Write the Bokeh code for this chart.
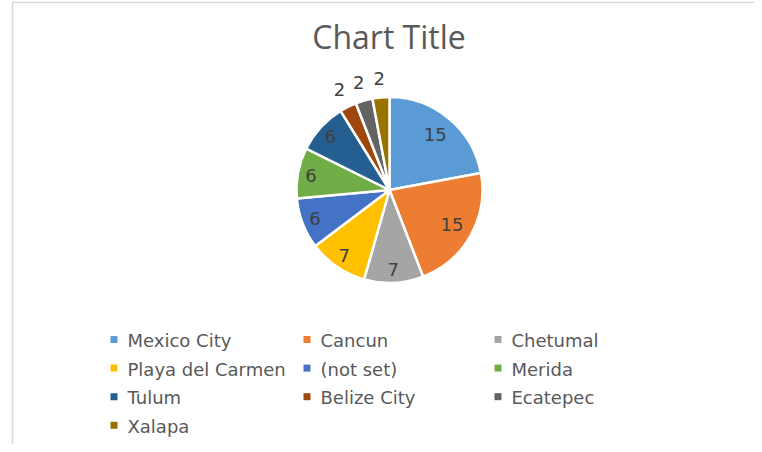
import numpy as np
from bokeh.plotting import figure
from bokeh.models import Range1d, ColumnDataSource
from bokeh.core.properties import value
from bokeh.embed import file_html
from bokeh.resources import INLINE

# ---- data ----
categories = ["Mexico City", "Cancun", "Chetumal", "Playa del Carmen", "(not set)",
              "Merida", "Tulum", "Belize City", "Ecatepec", "Xalapa"]
values = [15, 15, 7, 7, 6, 6, 6, 2, 2, 2]
colors = ["#5B9BD5", "#ED7D31", "#A5A5A5", "#FFC000", "#4472C4",
          "#70AD47", "#255E91", "#9E480E", "#636363", "#997300"]
title_text = "Chart Title"

# ---- layout (screenshot pixel coordinates, y measured downward) ----
W, H = 754, 444
def Y(py):
    return 452 - py

p = figure(width=W, height=H, x_range=Range1d(0, 754), y_range=Range1d(8, 452),
           output_backend="svg", toolbar_location=None, min_border=0,
           x_axis_location=None, y_axis_location=None)
p.grid.visible = False
p.outline_line_color = None
p.background_fill_color = "white"
p.border_fill_color = "white"

# chart area border
p.line(x=[12, 12], y=[Y(2), Y(452)], line_color="#d9d9d9", line_width=1.5)
p.line(x=[12, 754], y=[Y(2), Y(2)], line_color="#d9d9d9", line_width=1.5)

# title
p.text(x=[388.5], y=[Y(36)], text=[title_text], text_font=value("Open Sans"),
       text_font_size="32px", text_color="#595959", text_align="center",
       text_baseline="middle")

# pie
cx, cy, R = 389, Y(189.5), 93
vals = np.array(values, dtype=float)
frac = vals / vals.sum()
cum = np.concatenate([[0.0], np.cumsum(frac)])
th0 = cum[:-1] * 2 * np.pi
th1 = cum[1:] * 2 * np.pi
src = ColumnDataSource(dict(start=np.pi / 2 - th0, end=np.pi / 2 - th1, color=colors))
p.wedge(x=cx, y=cy, radius=R, start_angle="start", end_angle="end", direction="clock",
        fill_color="color", line_color="white", line_width=2.5, source=src)

# data labels
mid = (th0 + th1) / 2
dist = np.where(frac < 0.05, R + 19, np.where(frac > 0.15, 0.77 * R, 0.86 * R))
lx = cx + dist * np.sin(mid)
ly = cy + dist * np.cos(mid)
p.text(x=lx, y=ly, text=[str(v) for v in values], text_font=value("DejaVu Sans"),
       text_font_size="18px", text_color="#404040", text_align="center",
       text_baseline="middle")

# legend (3 columns)
col_x = [113.5, 306.5, 497.5]
n = len(categories)
cols = [i % 3 for i in range(n)]
rows = [i // 3 for i in range(n)]
mx = [col_x[c] for c in cols]
my = [Y(339 + 28.6 * r) for r in rows]
p.rect(x=mx, y=my, width=7, height=7, fill_color=colors, line_color=None)
tx = [x + 13.5 for x in mx]
ty = [Y(340 + 28.6 * r) for r in rows]
p.text(x=tx, y=ty, text=categories, text_font=value("DejaVu Sans"),
       text_font_size="18px", text_color="#595959", text_align="left",
       text_baseline="middle")

open("out.html", "w").write(file_html(p, INLINE))
